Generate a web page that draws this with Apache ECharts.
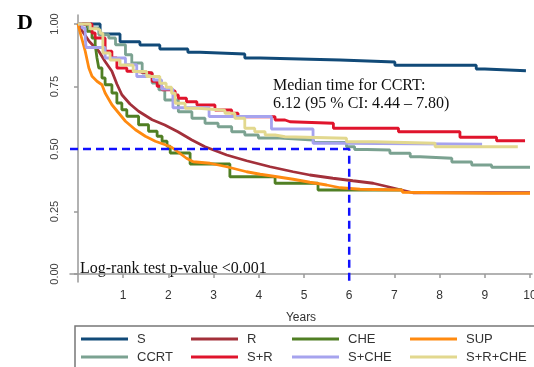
<!DOCTYPE html>
<html>
<head>
<meta charset="utf-8">
<script src="https://cdn.jsdelivr.net/npm/echarts@6/dist/echarts.min.js"></script>
<style>
  html, body { margin: 0; padding: 0; background: #fff; }
  #main { width: 534px; height: 367px; }
</style>
</head>
<body>
<div id="main"></div>
<script>
// survival curves, [years, probability]
var sData = [[0,1],[0.49,0.96],[0.93,0.929],[1.37,0.916],[1.81,0.90],[2.43,0.887],[2.70,0.88],[3.69,0.864],[4.03,0.856],[5.80,0.848],[7.01,0.835],[8.81,0.82],[9.0,0.813],[9.91,0.813]];
var rData = [[0,1],[0.1,0.97],[0.25,0.93],[0.46,0.891],[0.6,0.85],[0.75,0.811],[0.86,0.76],[0.97,0.717],[1.15,0.68],[1.34,0.651],[1.64,0.617],[1.92,0.596],[2.21,0.569],[2.52,0.536],[2.81,0.509],[3.29,0.476],[3.73,0.453],[4.25,0.429],[4.76,0.409],[5.13,0.396],[5.64,0.383],[6.08,0.373],[6.53,0.363],[6.86,0.349],[7.41,0.325],[10,0.325]];
var cheData = [[0,1],[0.20,0.971],[0.31,0.944],[0.38,0.917],[0.42,0.864],[0.46,0.824],[0.53,0.784],[0.60,0.757],[0.75,0.724],[0.86,0.684],[0.97,0.657],[1.08,0.631],[1.34,0.597],[1.56,0.571],[1.75,0.551],[1.86,0.531],[1.97,0.511],[2.04,0.484],[2.48,0.44],[3.36,0.389],[4.36,0.363],[5.31,0.336],[7.17,0.336]];
var supData = [[0,1],[0.02,0.984],[0.16,0.891],[0.24,0.824],[0.31,0.791],[0.42,0.771],[0.53,0.757],[0.60,0.724],[0.75,0.677],[0.90,0.644],[1.05,0.611],[1.27,0.577],[1.49,0.551],[1.71,0.531],[1.93,0.517],[2.08,0.506],[2.40,0.463],[2.55,0.449],[2.92,0.443],[3.29,0.429],[3.73,0.409],[4.03,0.399],[4.40,0.389],[4.76,0.379],[5.13,0.367],[5.50,0.356],[5.80,0.345],[6.24,0.339],[7.17,0.336],[7.18,0.327],[9.12,0.323],[10,0.323]];
var ccrtData = [[0,1],[0.24,0.984],[0.46,0.957],[0.68,0.944],[0.83,0.917],[1.05,0.877],[1.19,0.844],[1.42,0.804],[1.64,0.764],[1.79,0.737],[1.92,0.696],[2.22,0.649],[2.52,0.623],[2.81,0.603],[3.10,0.589],[3.40,0.569],[3.69,0.556],[3.99,0.544],[4.47,0.536],[5.21,0.526],[5.94,0.509],[6.12,0.498],[6.39,0.496],[6.90,0.483],[7.35,0.469],[7.57,0.463],[8.27,0.448],[8.71,0.436],[9.15,0.427],[10,0.427]];
var srData = [[0,1],[0.31,0.964],[0.38,0.944],[0.60,0.891],[0.75,0.864],[0.86,0.824],[1.08,0.811],[1.27,0.804],[1.64,0.771],[1.75,0.751],[1.86,0.737],[2.08,0.731],[2.15,0.716],[2.22,0.703],[2.40,0.689],[2.63,0.676],[3.03,0.656],[3.40,0.643],[3.54,0.629],[4.36,0.616],[4.58,0.609],[4.69,0.603],[5.65,0.583],[7.09,0.569],[8.45,0.547],[9.26,0.533],[9.89,0.533]];
var scheData = [[0,1],[0.09,0.984],[0.16,0.944],[0.18,0.906],[0.60,0.864],[1.05,0.837],[1.30,0.79],[1.67,0.776],[1.85,0.74],[2.10,0.665],[2.90,0.63],[4.28,0.58],[5.20,0.523],[5.94,0.519],[8.94,0.519]];
var srcheData = [[0,1],[0.27,0.981],[0.42,0.976],[0.49,0.963],[0.55,0.884],[0.71,0.856],[0.93,0.836],[1.22,0.81],[1.52,0.79],[1.81,0.763],[1.95,0.747],[2.07,0.723],[2.15,0.683],[2.37,0.663],[2.66,0.655],[3.25,0.643],[3.47,0.623],[3.69,0.583],[3.91,0.569],[4.14,0.556],[4.36,0.549],[4.58,0.543],[5.94,0.529],[6.53,0.523],[7.9,0.509],[9.73,0.509]];

var groupNames = ['S', 'R', 'CHE', 'SUP', 'CCRT', 'S+R', 'S+CHE', 'S+R+CHE'];
var groupData = [sData, rData, cheData, supData, ccrtData, srData, scheData, srcheData];
var groupColors = ['#114a78', '#a3303a', '#507f24', '#ff8a10', '#7ba291', '#e0142c', '#a6a3ee', '#e2d88e'];
var groupStep = ['end', false, 'end', false, 'end', 'end', 'end', 'end'];

var xTicks = [1, 2, 3, 4, 5, 6, 7, 8, 9, 10];
var yTicks = [0, 0.25, 0.5, 0.75, 1];
var medianX = 6;
var medianY = 0.5;

// axis range a bit wider than data (stata style offset axes)
var xMin = -0.177, xMax = 10.044;
var yMin = -0.032, yMax = 1.036;

var series = [];
for (var i = 0; i < groupNames.length; i++) {
    series.push({
        name: groupNames[i],
        type: 'line',
        step: groupStep[i],
        symbol: 'none',
        color: groupColors[i],
        lineStyle: { width: 2.8, color: groupColors[i] },
        data: groupData[i]
    });
}
// dashed median guide
series.push({
    name: 'median',
    type: 'line',
    symbol: 'none',
    silent: true,
    z: 5,
    lineStyle: { width: 2.5, color: '#1010ff', type: [8, 5] },
    data: [[xMin, medianY], [medianX, medianY], [medianX, yMin]]
});

function makeLegend(left, names) {
    return {
        orient: 'vertical',
        left: left,
        top: 330,
        padding: 0,
        itemGap: 0,
        itemWidth: 47,
        itemHeight: 3,
        icon: 'rect',
        selectedMode: false,
        textStyle: {
            fontFamily: 'Liberation Sans',
            fontSize: 13,
            color: '#333',
            lineHeight: 18,
            padding: [0, 0, 0, 4]
        },
        data: names
    };
}

var option = {
    backgroundColor: '#fff',
    animation: false,
    grid: { left: 70, right: 2, top: 15, bottom: 85, outerBoundsMode: 'none', containLabel: false },
    xAxis: {
        type: 'value',
        min: xMin,
        max: xMax,
        name: 'Years',
        nameLocation: 'middle',
        nameGap: 30,
        nameTextStyle: { fontFamily: 'Liberation Sans', fontSize: 12, color: '#333' },
        axisLine: { lineStyle: { color: '#999', width: 1.5 } },
        axisTick: { show: true, length: 4, customValues: xTicks, lineStyle: { color: '#999', width: 1.5 } },
        axisLabel: { customValues: xTicks, margin: 8, fontFamily: 'Liberation Sans', fontSize: 12, color: '#333' },
        splitLine: { show: false }
    },
    yAxis: {
        type: 'value',
        min: yMin,
        max: yMax,
        axisLine: { show: true, lineStyle: { color: '#999', width: 1.5 } },
        axisTick: { show: true, length: 4, customValues: yTicks, lineStyle: { color: '#999', width: 1.5 } },
        axisLabel: {
            customValues: yTicks,
            rotate: 90,
            margin: 10,
            fontFamily: 'Liberation Sans',
            fontSize: 11,
            color: '#444',
            formatter: function (v) { return v.toFixed(2); }
        },
        splitLine: { show: false }
    },
    legend: [
        makeLegend(81, ['S', 'CCRT']),
        makeLegend(191, ['R', 'S+R']),
        makeLegend(292, ['CHE', 'S+CHE']),
        makeLegend(410, ['SUP', 'S+R+CHE'])
    ],
    graphic: [
        {
            type: 'rect',
            shape: { x: 75, y: 326, width: 470, height: 60 },
            style: { fill: 'none', stroke: '#777', lineWidth: 1.5 },
            silent: true
        },
        {
            type: 'text', x: 17, y: 23,
            style: { text: 'D', font: 'bold 22px "Liberation Serif"', fill: '#000', verticalAlign: 'middle' }
        },
        {
            type: 'text', x: 273, y: 86,
            style: { text: 'Median time for CCRT:', font: '16px "Liberation Serif"', fill: '#111', verticalAlign: 'middle' }
        },
        {
            type: 'text', x: 273, y: 104,
            style: { text: '6.12 (95 % CI: 4.44 \u2013 7.80)', font: '16px "Liberation Serif"', fill: '#111', verticalAlign: 'middle' }
        },
        {
            type: 'text', x: 80, y: 269,
            style: { text: 'Log-rank test p-value <0.001', font: '16px "Liberation Serif"', fill: '#111', verticalAlign: 'middle' }
        }
    ],
    series: series
};

var chart = echarts.init(document.getElementById('main'));
chart.setOption(option);
</script>
</body>
</html>
